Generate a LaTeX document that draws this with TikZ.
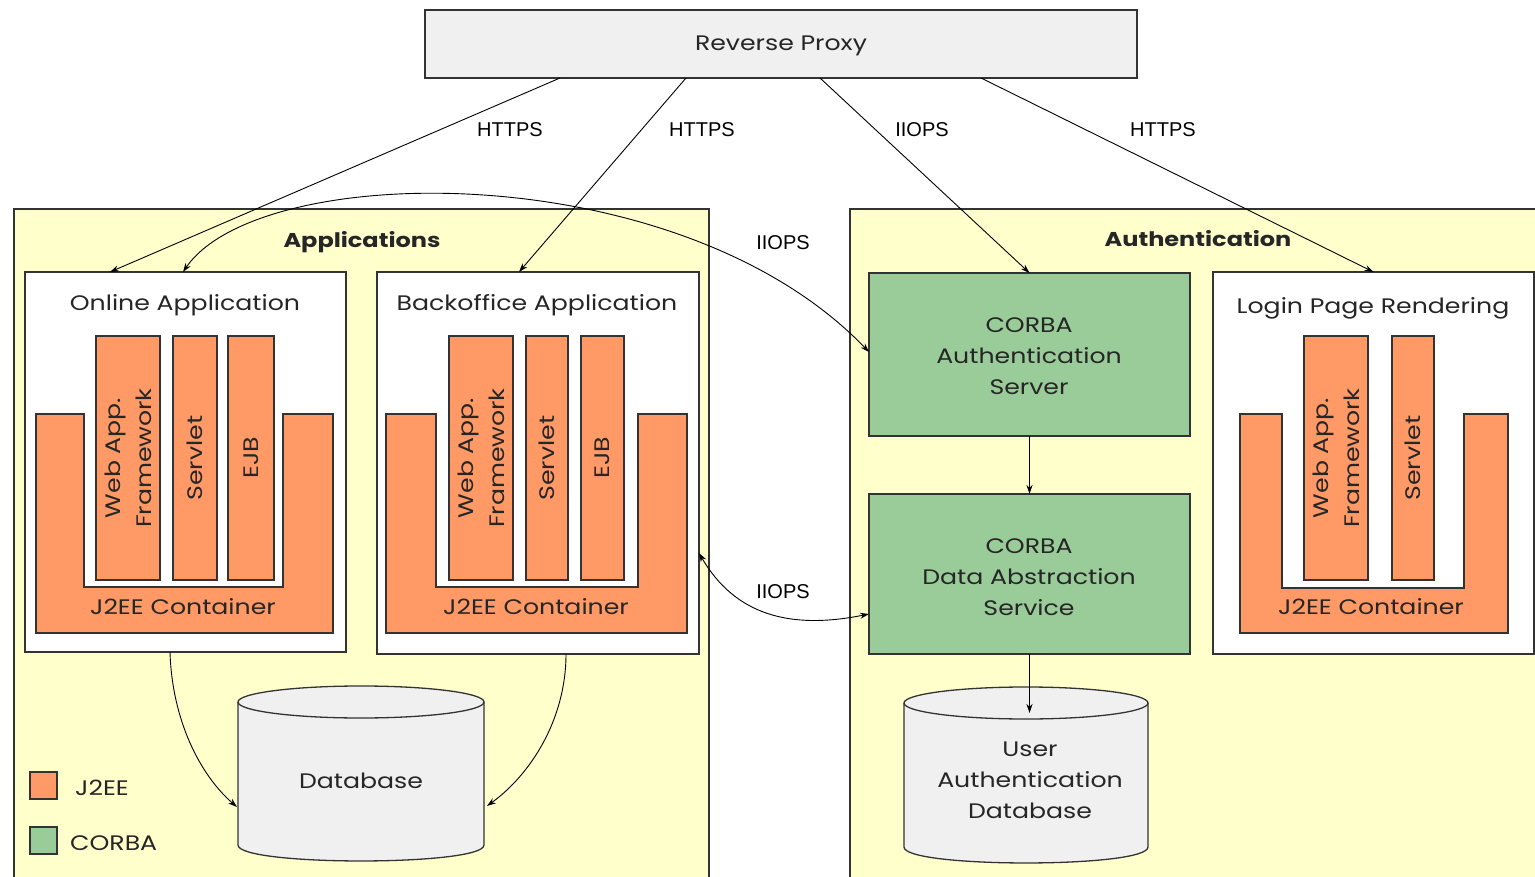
\documentclass[tikz,border=0pt]{standalone}
\usepackage{fontspec}
\setmainfont{Poppins}[FakeStretch=1.2]
\newfontfamily\labfont{Liberation Sans}
\usetikzlibrary{arrows.meta,calc}
\definecolor{jee}{HTML}{FF9966}
\definecolor{corba}{HTML}{99CC99}
\definecolor{panel}{HTML}{FFFFCC}
\definecolor{lgrey}{HTML}{F0F0F0}
\definecolor{edge}{HTML}{333333}
\begin{document}
\begin{tikzpicture}[x=1pt,y=-1pt,
  box/.style={draw=edge, line width=1.3pt, rectangle, anchor=north west, inner sep=0pt, outer sep=0pt},
  txt/.style={font=\fontsize{21}{31}\selectfont, align=center, inner sep=0pt, text=black!85},
  ttl/.style={font=\fontsize{20}{24}\selectfont\bfseries, inner sep=0pt, text=black!85},
  lab/.style={font=\labfont\fontsize{20}{22}\selectfont, inner sep=0pt},
  rot/.style={txt, rotate=90},
  ushape/.style={fill=jee, draw=edge, line width=1.3pt},
  conn/.style={draw=black, line width=0.9pt},
  >={Stealth[length=9pt,width=6pt]}
]
\useasboundingbox (0,0) rectangle (1535,877);
\clip (0,0) rectangle (1535,877);
\fill[white] (0,0) rectangle (1535,877);

% panels
\node[box, fill=panel, minimum width=695, minimum height=700] (apps) at (14,209) {};
\node[box, fill=panel, minimum width=720, minimum height=700] (auth) at (850,209) {};
\node[ttl] (appst) at (362,242) {Applications};
\node[ttl] (autht) at (1198,239) {Authentication};

% proxy
\node[box, fill=lgrey, minimum width=712, minimum height=68] (proxy) at (425,10) {};
\node[txt] (proxyt) at (781,46) {Reverse Proxy};

% online application
\node[box, fill=white, minimum width=321, minimum height=380] (online) at (25,272) {};
\node[txt] (onlinet) at (185,305) {Online Application};
\draw[ushape] (36,414) -- (84,414) -- (84,587) -- (283,587) -- (283,414) -- (333,414) -- (333,633) -- (36,633) -- cycle;
\node[txt] (oj) at (183,607) {J2EE Container};
\node[box, fill=jee, minimum width=64, minimum height=244] (ow) at (96,336) {};
\node[box, fill=jee, minimum width=44, minimum height=244] (os) at (173,336) {};
\node[box, fill=jee, minimum width=46, minimum height=244] (oe) at (228,336) {};
\node[rot] (owt) at (ow.center) {Web App.\\Framework};
\node[rot] (ost) at (os.center) {Servlet};
\node[rot] (oet) at (oe.center) {EJB};

% backoffice application
\node[box, fill=white, minimum width=322, minimum height=382] (back) at (377,272) {};
\node[txt] (backt) at (537,305) {Backoffice Application};
\draw[ushape] (386,414) -- (436,414) -- (436,587) -- (638,587) -- (638,414) -- (687,414) -- (687,633) -- (386,633) -- cycle;
\node[txt] (bj) at (536,607) {J2EE Container};
\node[box, fill=jee, minimum width=64, minimum height=244] (bw) at (449,336) {};
\node[box, fill=jee, minimum width=42, minimum height=244] (bs) at (526,336) {};
\node[box, fill=jee, minimum width=43, minimum height=244] (be) at (581,336) {};
\node[rot] (bwt) at (bw.center) {Web App.\\Framework};
\node[rot] (bst) at (bs.center) {Servlet};
\node[rot] (bet) at (be.center) {EJB};

% login page rendering
\node[box, fill=white, minimum width=321, minimum height=382] (login) at (1213,272) {};
\node[txt] (logint) at (1373,308) {Login Page Rendering};
\draw[ushape] (1240,414) -- (1282,414) -- (1282,588) -- (1464,588) -- (1464,414) -- (1508,414) -- (1508,633) -- (1240,633) -- cycle;
\node[txt] (lj) at (1371,607) {J2EE Container};
\node[box, fill=jee, minimum width=64, minimum height=244] (lw) at (1304,336) {};
\node[box, fill=jee, minimum width=42, minimum height=244] (ls) at (1392,336) {};
\node[rot] (lwt) at (lw.center) {Web App.\\Framework};
\node[rot] (lst) at (ls.center) {Servlet};

% CORBA boxes
\node[box, fill=corba, minimum width=321, minimum height=163] (cas) at (869,273) {};
\node[txt] (cast) at (1029,356) {CORBA\\Authentication\\Server};
\node[box, fill=corba, minimum width=321, minimum height=160] (das) at (869,494) {};
\node[txt] (dast) at (1029,577) {CORBA\\Data Abstraction\\Service};

% databases
\fill[lgrey] (238,702) -- (238,845) .. controls (238,866.3) and (484,866.3) .. (484,845) -- (484,702) -- cycle;
\draw[edge, line width=1.3pt] (238,702) -- (238,845) .. controls (238,866.3) and (484,866.3) .. (484,845) -- (484,702);
\draw[edge, line width=1.3pt, fill=lgrey] (361,702) ellipse [x radius=123, y radius=16];
\node[txt] (db) at (361,781) {Database};

\fill[lgrey] (904,703) -- (904,847) .. controls (904,868.3) and (1148,868.3) .. (1148,847) -- (1148,703) -- cycle;
\draw[edge, line width=1.3pt] (904,703) -- (904,847) .. controls (904,868.3) and (1148,868.3) .. (1148,847) -- (1148,703);
\draw[edge, line width=1.3pt, fill=lgrey] (1026,703) ellipse [x radius=122, y radius=16];
\node[txt] (udb) at (1030,780) {User\\Authentication\\Database};
\coordinate (dbl) at (237,807);
\coordinate (dbr) at (487,806);
\coordinate (udbtop) at (1029.5,713);

% legend
\node[box, fill=jee, minimum width=27, minimum height=27] (legj) at (30,772) {};
\node[box, fill=corba, minimum width=27, minimum height=27] (legc) at (30,827) {};
\node[txt, anchor=west] (legjt) at (75,788) {J2EE};
\node[txt, anchor=west] (legct) at (70,843) {CORBA};

% connectors from proxy
\draw[conn,->] ([xshift=135pt]proxy.south west) -- ([xshift=85pt]online.north west);
\draw[conn,->] ([xshift=261pt]proxy.south west) -- ([xshift=142pt]back.north west);
\draw[conn,->] ([xshift=395pt]proxy.south west) -- (cas.north);
\draw[conn,->] ([xshift=556pt]proxy.south west) -- (login.north);
\node[lab] (h1) at (510,130) {HTTPS};
\node[lab] (h2) at (702,130) {HTTPS};
\node[lab] (i1) at (922,130) {IIOPS};
\node[lab] (h3) at (1163,130) {HTTPS};

% IIOPS curves
\draw[conn,<->] ([xshift=158pt]online.north west) .. controls (260,160) and (680,155) .. ([yshift=-79pt]cas.north west);
\node[lab] (i2) at (783,243) {IIOPS};
\draw[conn,<->] ([yshift=-281pt]back.north east) .. controls (735,615) and (790,630) .. ([yshift=-120pt]das.north west);
\node[lab] (i3) at (783,592) {IIOPS};

% database connectors
\draw[conn,->] ([xshift=145pt]online.south west) .. controls (172,720) and (200,775) .. (dbl);
\draw[conn,->] ([xshift=189pt]back.south west) .. controls (566,720) and (530,775) .. (dbr);

% auth connectors
\draw[conn,->] (cas.south) -- (das.north);
\draw[conn,->] (das.south) -- (udbtop);
\end{tikzpicture}
\end{document}
